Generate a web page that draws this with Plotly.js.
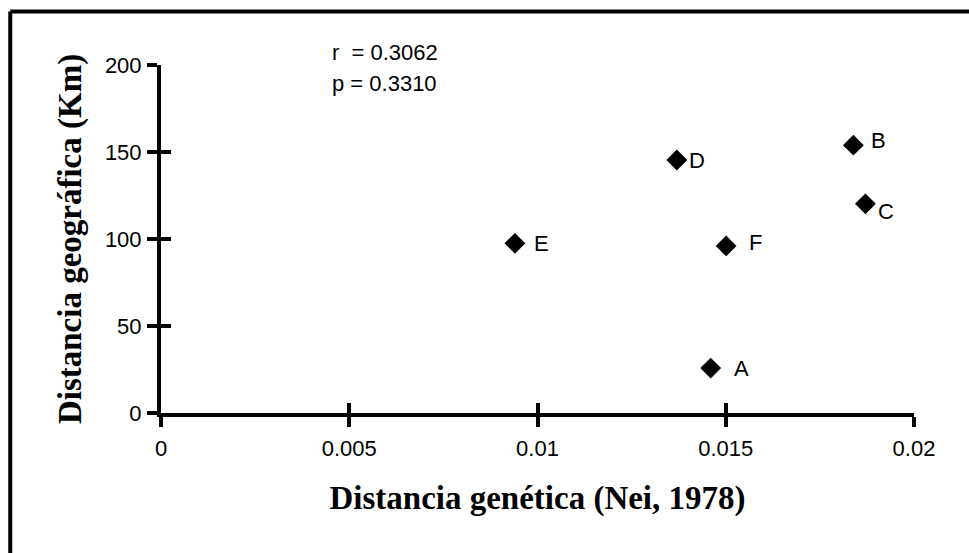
<!DOCTYPE html>
<html>
<head>
<meta charset="utf-8">
<script src="https://cdn.plot.ly/plotly-3.0.1.min.js"></script>
<style>html,body{margin:0;padding:0;background:#fff;}#chart{width:969px;height:553px;}</style>
</head>
<body>
<div id="chart"></div>
<script>
const labels = ["A", "B", "C", "D", "E", "F"];
const geneticDistance = [0.01460, 0.01839, 0.01871, 0.01370, 0.00940, 0.01501];
const geoDistance = [25.8, 153.9, 120.2, 145.4, 97.5, 96.0];
const labelShiftX = [31, 25, 21, 20, 27, 29];
const labelShiftY = [0, 5, -8, 0, 0, 3];
const xTicks = [0, 0.005, 0.01, 0.015, 0.02];
const xTickText = ["0", "0.005", "0.01", "0.015", "0.02"];
const yTicks = [0, 50, 100, 150, 200];
const statsText = ["r  = 0.3062", "p = 0.3310"];

const L = 160.8, R = 914, T = 65.3, B = 412.7;
const W = 969, H = 553;
const px2x = p => (p - L) / (R - L);
const py2y = p => (B - p) / (B - T);

const tickFont = {family: "Liberation Sans, Arial", size: 22, color: "#000"};
const titleFont = {family: "Liberation Serif, Times New Roman", size: 33, color: "#000"};

const traces = [{
  type: "scatter", mode: "markers",
  x: geneticDistance, y: geoDistance,
  marker: {symbol: "diamond", size: 16, color: "#000"},
  cliponaxis: false, hoverinfo: "skip"
}, {
  type: "scatter", mode: "markers",
  x: geneticDistance, y: geoDistance, xaxis: "x2", yaxis: "y2",
  marker: {size: 0, opacity: 0}, hoverinfo: "skip"
}];

const annotations = labels.map((t, i) => ({
  x: geneticDistance[i], y: geoDistance[i], xref: "x", yref: "y",
  text: t, showarrow: false, xanchor: "center", yanchor: "middle",
  xshift: labelShiftX[i], yshift: labelShiftY[i],
  font: tickFont
}));
statsText.forEach((t, i) => annotations.push({
  x: px2x(330), y: py2y(i === 0 ? 53 : 84), xref: "paper", yref: "paper",
  text: t, showarrow: false, xanchor: "left", yanchor: "middle", font: tickFont
}));

const layout = {
  width: W, height: H,
  margin: {l: L, r: W - R, t: T, b: H - B, pad: 0},
  paper_bgcolor: "#fff", plot_bgcolor: "#fff",
  showlegend: false,
  xaxis: {
    range: [0, 0.02], tickvals: xTicks, ticktext: xTickText,
    showgrid: false, zeroline: false,
    showline: true, linewidth: 4, linecolor: "#000",
    ticks: "outside", ticklen: 10, tickwidth: 4, tickcolor: "#000",
    tickfont: tickFont, ticklabelstandoff: 3,
    title: {text: "<b>Distancia genética (Nei, 1978)</b>", font: titleFont, standoff: 26},
    fixedrange: true
  },
  yaxis: {
    range: [0, 200], tickvals: yTicks,
    showgrid: false, zeroline: false,
    showline: true, linewidth: 4, linecolor: "#000",
    ticks: "outside", ticklen: 10, tickwidth: 4, tickcolor: "#000",
    tickfont: tickFont, ticklabelstandoff: 1,
    title: {text: "<b>Distancia geográfica (Km)</b>", font: titleFont, standoff: 14},
    fixedrange: true
  },
  xaxis2: {
    overlaying: "x", anchor: "y2", range: [0, 0.02], tickvals: xTicks,
    showticklabels: false, showgrid: false, zeroline: false, showline: false,
    ticks: "inside", ticklen: 10, tickwidth: 4, tickcolor: "#000", fixedrange: true
  },
  yaxis2: {
    overlaying: "y", anchor: "x2", range: [0, 200], tickvals: yTicks,
    showticklabels: false, showgrid: false, zeroline: false, showline: false,
    ticks: "inside", ticklen: 10, tickwidth: 4, tickcolor: "#000", fixedrange: true
  },
  annotations: annotations,
  shapes: [
    {type: "line", xref: "paper", yref: "paper", x0: px2x(10), x1: px2x(10), y0: py2y(12), y1: py2y(600), line: {color: "#000", width: 4}},
    {type: "line", xref: "paper", yref: "paper", x0: px2x(10), x1: px2x(1000), y0: py2y(12), y1: py2y(12), line: {color: "#000", width: 4}}
  ]
};

Plotly.newPlot("chart", traces, layout, {staticPlot: true, displayModeBar: false});
</script>
</body>
</html>
